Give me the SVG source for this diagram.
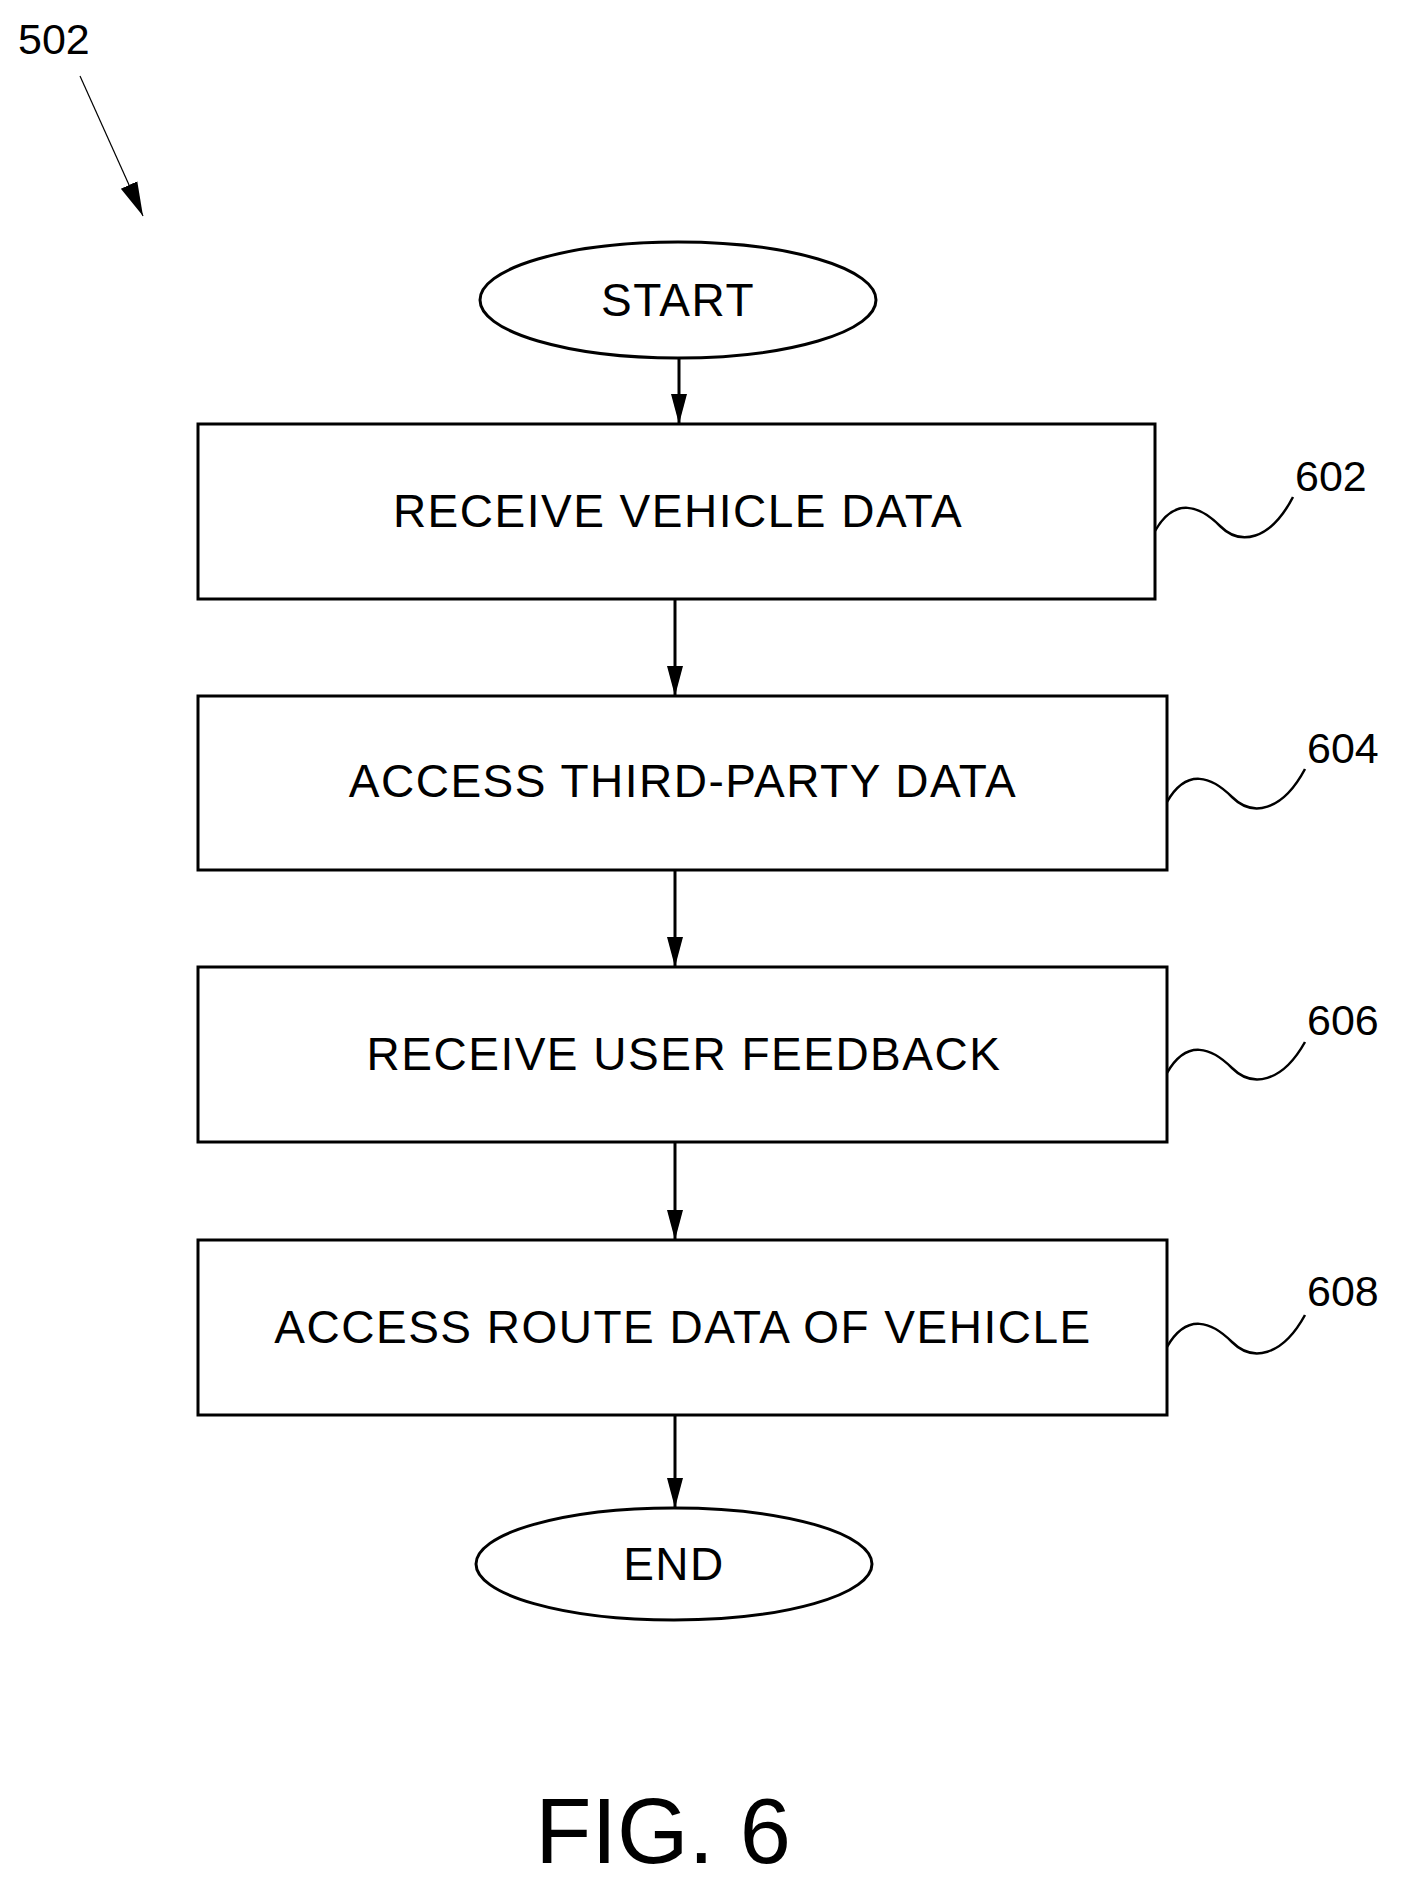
<svg xmlns="http://www.w3.org/2000/svg" width="1404" height="1890" viewBox="0 0 1404 1890">
<defs>
<style>
.b{fill:#fff;stroke:#000;stroke-width:3}
.t{font-family:"Liberation Sans",Arial,sans-serif;font-size:46px;letter-spacing:1.5px;text-anchor:middle;fill:#000}
.l{font-family:"Liberation Sans",Arial,sans-serif;font-size:43px;fill:#000}
.c{stroke:#000;stroke-width:3;fill:none;marker-end:url(#a)}
.w{stroke:#000;stroke-width:2.5;fill:none}
</style>
<marker id="a" viewBox="0 0 30 16" refX="30" refY="8" markerWidth="30" markerHeight="16" markerUnits="userSpaceOnUse" orient="auto"><path d="M0,0 L30,8 L0,16 Z" fill="#000"/></marker>
<marker id="a2" viewBox="0 0 34 20" refX="34" refY="10" markerWidth="34" markerHeight="20" markerUnits="userSpaceOnUse" orient="auto"><path d="M0,1 L34,10 L0,19 Z" fill="#000"/></marker>
</defs>
<rect width="1404" height="1890" fill="#fff"/>
<g id="ref502"><text class="l" x="18" y="54">502</text>
<line x1="80" y1="76" x2="143" y2="216" stroke="#000" stroke-width="1.2" marker-end="url(#a2)"/></g>
<g id="connectors">
<line class="c" x1="679" y1="358" x2="679" y2="424"/>
<line class="c" x1="675" y1="599" x2="675" y2="696"/>
<line class="c" x1="675" y1="870" x2="675" y2="967"/>
<line class="c" x1="675" y1="1142" x2="675" y2="1240"/>
<line class="c" x1="675" y1="1415" x2="675" y2="1508"/>
</g>
<g id="start"><ellipse class="b" cx="678" cy="300" rx="198" ry="58"/><text class="t" x="678" y="316">START</text></g>
<g id="n602"><rect class="b" x="198" y="424" width="957" height="175"/><text class="t" x="678" y="527">RECEIVE VEHICLE DATA</text>
<path class="w" d="M1155,531 C1175,496 1200,506 1220,526 C1240,546 1270,541 1293,497"/><text class="l" x="1295" y="491">602</text></g>
<g id="n604"><rect class="b" x="198" y="696" width="969" height="174"/><text class="t" x="683" y="797">ACCESS THIRD-PARTY DATA</text>
<path class="w" d="M1167,802 C1187,767 1212,777 1232,797 C1252,817 1282,812 1305,769"/><text class="l" x="1307" y="763">604</text></g>
<g id="n606"><rect class="b" x="198" y="967" width="969" height="175"/><text class="t" x="684" y="1070">RECEIVE USER FEEDBACK</text>
<path class="w" d="M1167,1073 C1187,1038 1212,1048 1232,1068 C1252,1088 1282,1083 1305,1042"/><text class="l" x="1307" y="1035">606</text></g>
<g id="n608"><rect class="b" x="198" y="1240" width="969" height="175"/><text class="t" x="683" y="1343">ACCESS ROUTE DATA OF VEHICLE</text>
<path class="w" d="M1167,1347 C1187,1312 1212,1322 1232,1342 C1252,1362 1282,1357 1305,1315"/><text class="l" x="1307" y="1306">608</text></g>
<g id="end"><ellipse class="b" cx="674" cy="1564" rx="198" ry="56"/><text class="t" x="674" y="1580">END</text></g>
<text x="663" y="1863" font-family="Liberation Sans,Arial,sans-serif" font-size="92" text-anchor="middle">FIG. 6</text>
</svg>
